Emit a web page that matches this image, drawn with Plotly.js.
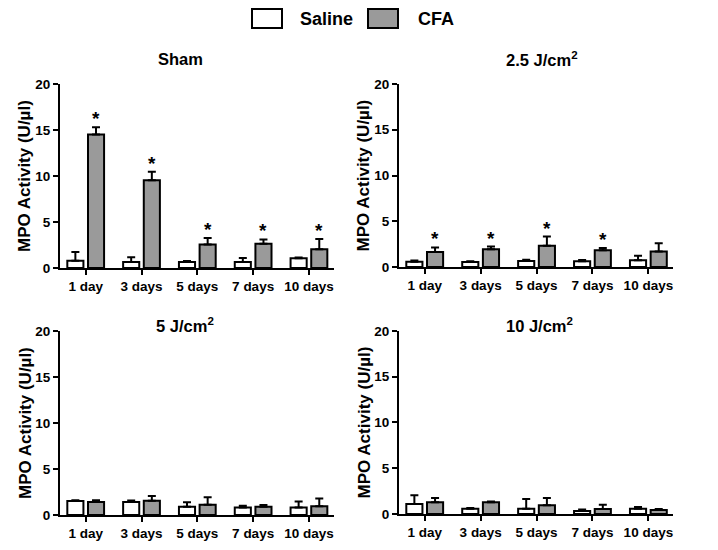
<!DOCTYPE html>
<html>
<head>
<meta charset="utf-8">
<script src="https://cdn.plot.ly/plotly-3.0.1.min.js"></script>
<style>html,body{margin:0;padding:0;background:#fff;}#chart{width:718px;height:550px;}</style>
</head>
<body>
<div id="chart"></div>
<script>
// ---- data ----
const categories = ['1 day', '3 days', '5 days', '7 days', '10 days'];
const seriesNames = ['Saline', 'CFA'];
const panelTitles = ['Sham', '2.5 J/cm<sup>2</sup>', '5 J/cm<sup>2</sup>', '10 J/cm<sup>2</sup>'];
const yTitle = 'MPO Activity (U/µl)';
const yTickVals = [0, 5, 10, 15, 20];

const shamSaline = [0.78, 0.65, 0.65, 0.65, 1.05];
const shamSalineErr = [0.95, 0.52, 0.1, 0.45, 0.08];
const shamCFA = [14.5, 9.55, 2.55, 2.65, 2.05];
const shamCFAErr = [0.8, 0.9, 0.7, 0.45, 1.1];
const shamSig = [1, 1, 1, 1, 1];

const j25Saline = [0.58, 0.55, 0.65, 0.62, 0.73];
const j25SalineErr = [0.12, 0.08, 0.15, 0.15, 0.5];
const j25CFA = [1.64, 1.93, 2.33, 1.82, 1.71];
const j25CFAErr = [0.5, 0.3, 1.0, 0.26, 0.9];
const j25Sig = [1, 1, 1, 1, 0];

const j5Saline = [1.52, 1.41, 0.9, 0.83, 0.83];
const j5SalineErr = [0.08, 0.18, 0.5, 0.18, 0.65];
const j5CFA = [1.41, 1.56, 1.12, 0.9, 0.94];
const j5CFAErr = [0.2, 0.5, 0.8, 0.18, 0.85];
const j5Sig = [0, 0, 0, 0, 0];

const j10Saline = [1.09, 0.58, 0.58, 0.33, 0.58];
const j10SalineErr = [0.95, 0.08, 1.05, 0.15, 0.18];
const j10CFA = [1.27, 1.27, 0.94, 0.54, 0.44];
const j10CFAErr = [0.47, 0.08, 0.8, 0.48, 0.1];
const j10Sig = [0, 0, 0, 0, 0];

// ---- styling ----
const FONT = 'Liberation Sans, Arial, Helvetica, sans-serif';
const fills = ['#ffffff', '#9a9a9a'];
const panels = [
  {sal: shamSaline, salE: shamSalineErr, cfa: shamCFA, cfaE: shamCFAErr, sig: shamSig,
   xd: [0.0836, 0.4645], yd: [0.5127, 0.8473], tx: 180, ty: 59, ax: 25},
  {sal: j25Saline, salE: j25SalineErr, cfa: j25CFA, cfaE: j25CFAErr, sig: j25Sig,
   xd: [0.5557, 0.9373], yd: [0.5145, 0.8473], tx: 542, ty: 59, ax: 364},
  {sal: j5Saline, salE: j5SalineErr, cfa: j5CFA, cfaE: j5CFAErr, sig: j5Sig,
   xd: [0.0836, 0.4645], yd: [0.0636, 0.3982], tx: 185, ty: 325, ax: 25},
  {sal: j10Saline, salE: j10SalineErr, cfa: j10CFA, cfaE: j10CFAErr, sig: j10Sig,
   xd: [0.5557, 0.9373], yd: [0.0655, 0.3982], tx: 539, ty: 325, ax: 364}
];

const W = 718, H = 550;
const traces = [];
const layout = {
  width: W, height: H,
  margin: {l: 0, r: 0, t: 0, b: 0},
  paper_bgcolor: '#fff', plot_bgcolor: '#fff',
  showlegend: false,
  barmode: 'group', bargap: 0.26, bargroupgap: 0.22,
  font: {family: FONT, color: '#000'},
  annotations: [], shapes: []
};

const zeros = categories.map(() => 0);
panels.forEach((p, i) => {
  const n = i + 1;
  const xa = n === 1 ? 'x' : 'x' + n;
  const ya = n === 1 ? 'y' : 'y' + n;
  [[p.sal, p.salE], [p.cfa, p.cfaE]].forEach((d, k) => {
    traces.push({
      type: 'bar', x: categories, y: d[0], name: seriesNames[k],
      xaxis: xa, yaxis: ya,
      marker: {color: fills[k], line: {color: '#000', width: 2}},
      error_y: {type: 'data', symmetric: false, array: d[1], arrayminus: zeros,
                color: '#000', thickness: 2, width: 4},
      hoverinfo: 'skip'
    });
  });
  layout['xaxis' + (n === 1 ? '' : n)] = {
    domain: p.xd, anchor: ya, type: 'category', range: [-0.46, 4.44],
    showline: true, linecolor: '#000', linewidth: 2, showgrid: false, zeroline: false,
    ticks: 'outside', ticklen: 5, tickwidth: 2, tickcolor: '#000',
    tickfont: {family: FONT, size: 13.5, color: '#000', weight: 'bold'}, fixedrange: true
  };
  layout['yaxis' + (n === 1 ? '' : n)] = {
    domain: p.yd, anchor: xa, range: [0, 20], tickvals: yTickVals,
    showline: true, linecolor: '#000', linewidth: 2, showgrid: false, zeroline: false,
    ticks: 'outside', ticklen: 5, tickwidth: 2, tickcolor: '#000',
    tickfont: {family: FONT, size: 13.5, color: '#000', weight: 'bold'}, fixedrange: true
  };
  // panel title
  layout.annotations.push({
    xref: 'paper', yref: 'paper', x: p.tx / W, y: 1 - p.ty / H,
    xanchor: 'center', yanchor: 'middle', showarrow: false,
    text: '<b>' + panelTitles[i] + '</b>',
    font: {family: FONT, size: 16.5, color: '#000'}
  });
  // y axis title
  layout.annotations.push({
    xref: 'paper', yref: 'paper', x: p.ax / W, y: (p.yd[0] + p.yd[1]) / 2,
    xanchor: 'center', yanchor: 'middle', showarrow: false, textangle: -90,
    text: '<b>' + yTitle + '</b>',
    font: {family: FONT, size: 17, color: '#000'}
  });
  // significance asterisks
  p.sig.forEach((s, j) => {
    if (!s) return;
    layout.annotations.push({
      xref: xa, yref: ya, x: j + 0.185, y: p.cfa[j] + p.cfaE[j],
      xanchor: 'center', yanchor: 'bottom', yshift: -4, showarrow: false,
      text: '<b>*</b>', font: {family: FONT, size: 19, color: '#000'}
    });
  });
});

// legend (drawn manually)
const legendBoxes = [[252, 282], [368, 398]];
const legendText = [298, 416];
seriesNames.forEach((nm, k) => {
  layout.shapes.push({
    type: 'rect', xref: 'paper', yref: 'paper',
    x0: legendBoxes[k][0] / W, x1: legendBoxes[k][1] / W, y0: 1 - 28 / H, y1: 1 - 9 / H,
    fillcolor: fills[k], line: {color: '#000', width: 2}
  });
  layout.annotations.push({
    xref: 'paper', yref: 'paper', x: legendText[k] / W, y: 1 - 18.5 / H,
    xanchor: 'left', yanchor: 'middle', showarrow: false,
    text: '<b>' + nm + '</b>', font: {family: FONT, size: 18, color: '#000'}
  });
});

Plotly.newPlot('chart', traces, layout, {staticPlot: true, displayModeBar: false});
</script>
</body>
</html>
